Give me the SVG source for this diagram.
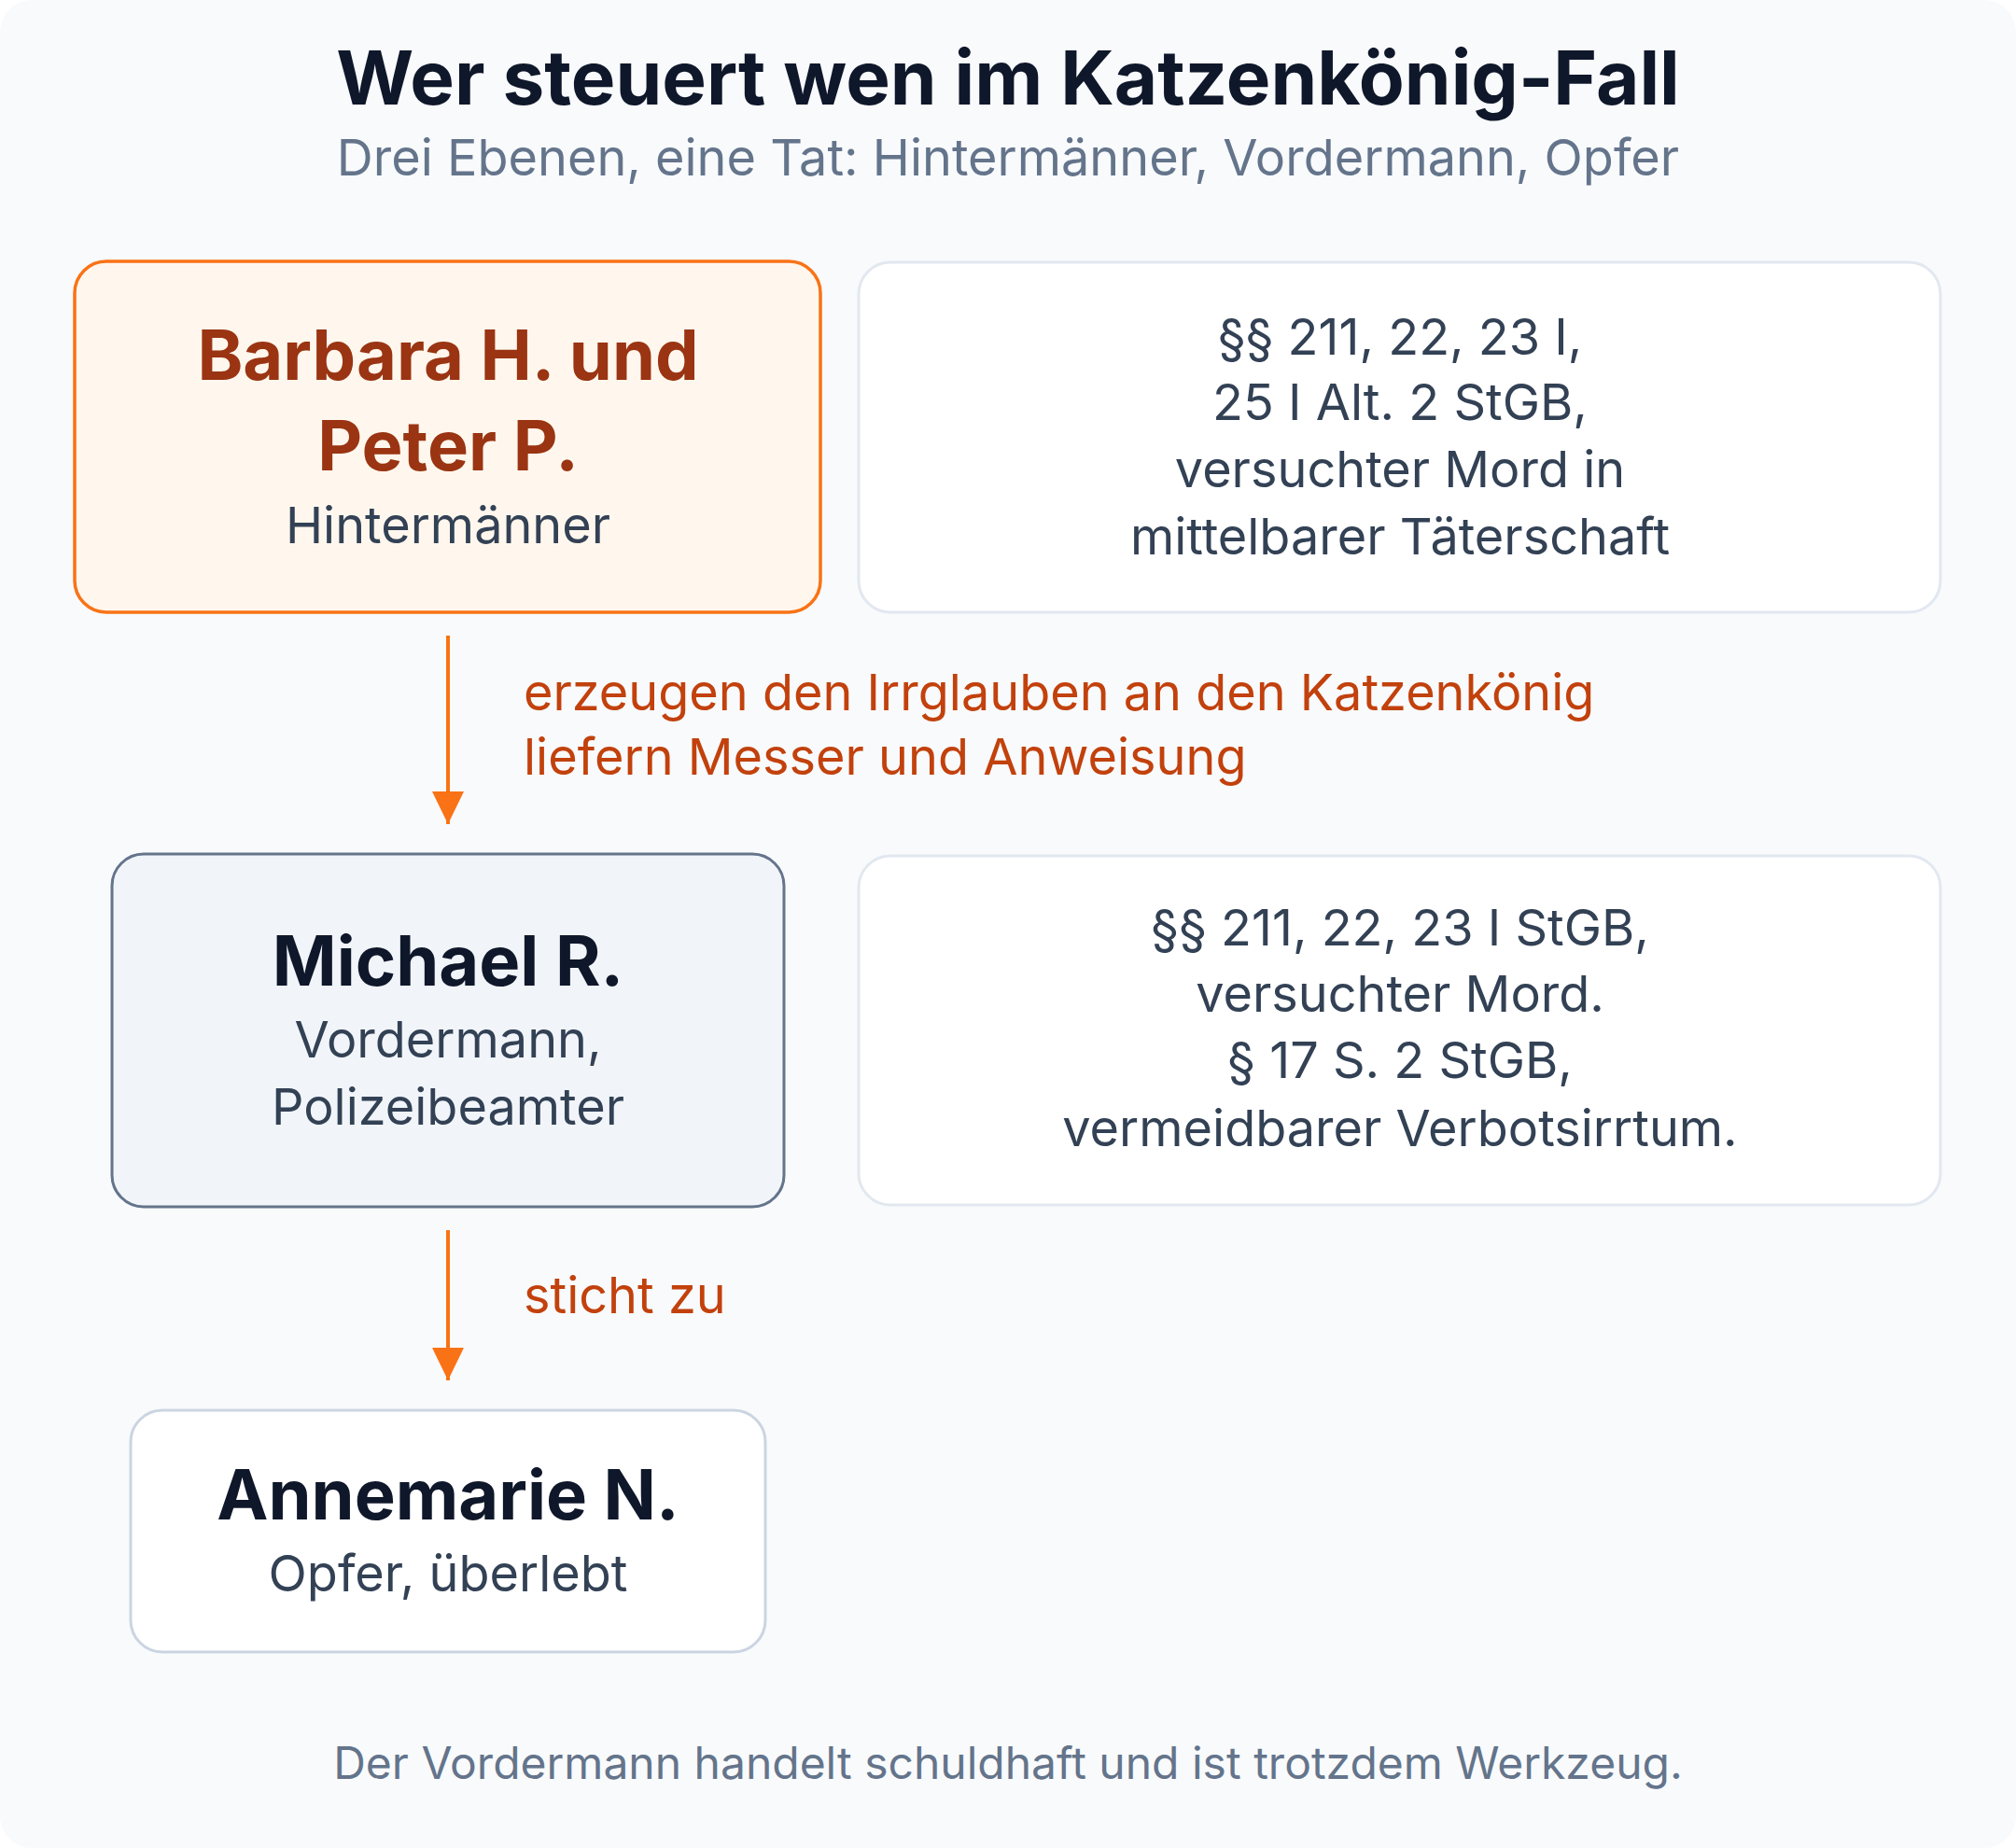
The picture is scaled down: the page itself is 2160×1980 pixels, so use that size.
<svg xmlns="http://www.w3.org/2000/svg" width="2160" height="1980" viewBox="0 0 2160 1980">
<style>
.t{font-family:Inter,"Noto Sans","Liberation Sans",sans-serif;text-anchor:middle}
.title{font-size:80px;font-weight:700;fill:#0f172a}
.sub{font-size:54px;fill:#64748b}
.h{font-size:74px;font-weight:700}
.b{font-size:54px;fill:#334155}
.lbl{font-family:Inter,"Noto Sans","Liberation Sans",sans-serif;font-size:54px;fill:#c2410c}
.foot{font-size:48px;fill:#64748b}
.edge{stroke:#f97316;stroke-width:4;fill:none}
</style>
<defs>
<marker id="ah" markerUnits="userSpaceOnUse" markerWidth="36" markerHeight="36" viewBox="0 0 36 36" refX="35" refY="18" orient="auto">
<path d="M0,1 L35,18 L0,35 Z" fill="#f97316"/>
</marker>
</defs>
<rect x="0" y="0" width="2160" height="1980" rx="34" fill="#f8fafc"/>
<text class="t title" x="1080" y="112">Wer steuert wen im Katzenkönig-Fall</text>
<text class="t sub" x="1080" y="188">Drei Ebenen, eine Tat: Hintermänner, Vordermann, Opfer</text>

<g id="node-hintermaenner">
<rect x="80" y="280" width="799" height="376" rx="34" fill="#fff7ed" stroke="#f97316" stroke-width="3.5"/>
<text class="t h" x="480" y="407" fill="#9a3412">Barbara H. und</text>
<text class="t h" x="480" y="504" fill="#9a3412">Peter P.</text>
<text class="t b" x="480" y="582">Hintermänner</text>
</g>

<g id="note-hintermaenner">
<rect x="920" y="281" width="1159" height="375" rx="34" fill="#ffffff" stroke="#e2e8f0" stroke-width="3"/>
<text class="t b" x="1500" y="380">§§ 211, 22, 23 I,</text>
<text class="t b" x="1500" y="450">25 I Alt. 2 StGB,</text>
<text class="t b" x="1500" y="522">versuchter Mord in</text>
<text class="t b" x="1500" y="594">mittelbarer Täterschaft</text>
</g>

<g id="node-vordermann">
<rect x="120" y="915" width="720" height="378" rx="34" fill="#f1f5f9" stroke="#64748b" stroke-width="3"/>
<text class="t h" x="480" y="1056" fill="#0f172a">Michael R.</text>
<text class="t b" x="480" y="1133">Vordermann,</text>
<text class="t b" x="480" y="1205">Polizeibeamter</text>
</g>

<g id="note-vordermann">
<rect x="920" y="917" width="1159" height="374" rx="34" fill="#ffffff" stroke="#e2e8f0" stroke-width="3"/>
<text class="t b" x="1500" y="1013">§§ 211, 22, 23 I StGB,</text>
<text class="t b" x="1500" y="1084">versuchter Mord.</text>
<text class="t b" x="1500" y="1155">§ 17 S. 2 StGB,</text>
<text class="t b" x="1500" y="1228">vermeidbarer Verbotsirrtum.</text>
</g>

<g id="node-opfer">
<rect x="140" y="1511" width="680" height="259" rx="34" fill="#ffffff" stroke="#cbd5e1" stroke-width="3"/>
<text class="t h" x="480" y="1628" fill="#0f172a">Annemarie N.</text>
<text class="t b" x="480" y="1705">Opfer, überlebt</text>
</g>

<g id="connectors">
<line class="edge" x1="480" y1="681" x2="480" y2="883" marker-end="url(#ah)"/>
<text class="lbl" x="561" y="761">erzeugen den Irrglauben an den Katzenkönig</text>
<text class="lbl" x="561" y="830">liefern Messer und Anweisung</text>
<line class="edge" x1="480" y1="1318" x2="480" y2="1479" marker-end="url(#ah)"/>
<text class="lbl" x="561" y="1407">sticht zu</text>
</g>

<text class="t foot" x="1080" y="1906">Der Vordermann handelt schuldhaft und ist trotzdem Werkzeug.</text>
</svg>
